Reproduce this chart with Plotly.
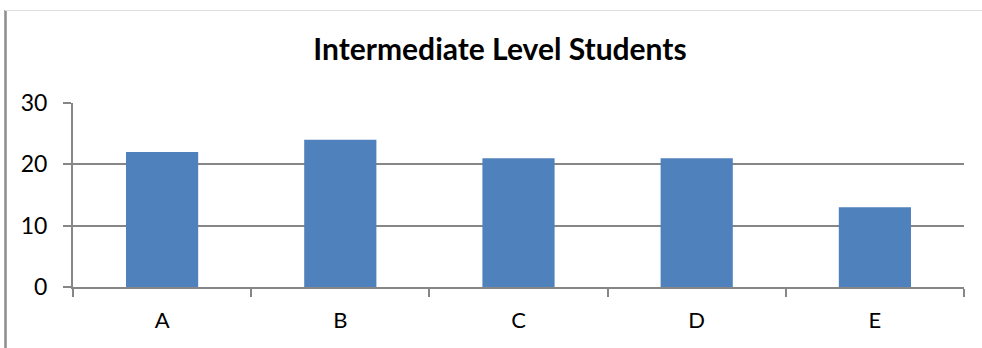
import plotly.graph_objects as go

categories = ["A", "B", "C", "D", "E"]
values = [22, 24, 21, 21, 13]
y_ticks = [0, 10, 20, 30]
title_text = "Intermediate Level Students"

W, H = 982, 348
L, R, T, B = 73, 18, 103, 61
pw = W - L - R
ph = H - T - B

def px_x(p):
    return (p - L) / pw

def px_y(p):
    return (H - B - p) / ph

fig = go.Figure(go.Bar(
    x=categories, y=values, marker=dict(color="#4F81BD", line=dict(width=0)),
    width=0.405,
))

grid = "#868686"
fig.update_layout(
    width=W, height=H,
    margin=dict(l=L, r=R, t=T, b=B),
    paper_bgcolor="white", plot_bgcolor="white",
    showlegend=False,
    font=dict(family="Lato, Carlito, Calibri, sans-serif", color="#000000", size=21),
    title=dict(text="<b>" + title_text + "</b>", xref="container", x=500 / W, xanchor="center",
               y=1 - 49 / H, yanchor="middle",
               font=dict(size=30, family="Lato, Carlito, sans-serif", color="#000")),
    xaxis=dict(
        type="category", showline=True, linecolor=grid, linewidth=2,
        ticks="outside", tickson="boundaries", ticklen=8, tickwidth=2, tickcolor=grid,
        showgrid=False, tickfont=dict(size=22), ticklabelstandoff=13,
    ),
    yaxis=dict(
        range=[0, 30], tickvals=y_ticks, showline=True, linecolor=grid, linewidth=2,
        ticks="outside", ticklen=8, tickwidth=2, tickcolor=grid,
        showgrid=True, gridcolor=grid, gridwidth=2, zeroline=False,
        tickfont=dict(size=23), ticklabelstandoff=11,
    ),
    shapes=[
        dict(type="line", xref="paper", yref="paper",
             x0=px_x(5.5), x1=px_x(5.5), y0=px_y(10), y1=px_y(348),
             line=dict(color="#8c8c8c", width=2.5)),
        dict(type="line", xref="paper", yref="paper",
             x0=px_x(5), x1=px_x(982), y0=px_y(10.5), y1=px_y(10.5),
             line=dict(color="#e0e0e0", width=1)),
    ],
)

fig.write_html("out.html")
